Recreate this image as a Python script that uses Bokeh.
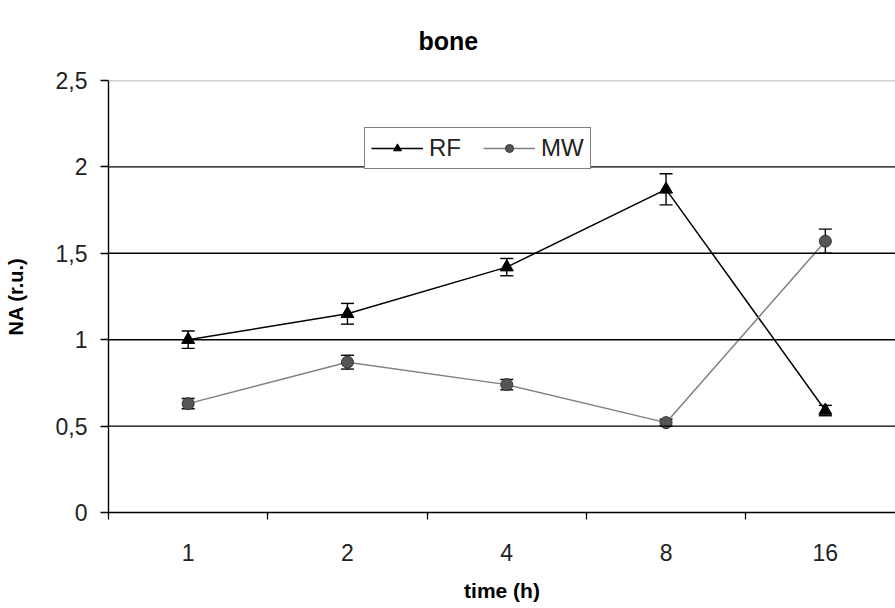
from bokeh.plotting import figure
from bokeh.models import (ColumnDataSource, FixedTicker, Legend, LegendItem,
                          Whisker, Span, TeeHead)
from bokeh.embed import file_html
from bokeh.resources import INLINE

# ---- data ----
categories = ["1", "2", "4", "8", "16"]
rf_values = [1.00, 1.15, 1.42, 1.87, 0.59]
rf_errors = [0.05, 0.06, 0.05, 0.09, 0.03]
mw_values = [0.63, 0.87, 0.74, 0.52, 1.57]
mw_errors = [0.03, 0.04, 0.03, 0.02, 0.07]
y_ticks = [0, 0.5, 1, 1.5, 2, 2.5]
y_tick_labels = ["0", "0,5", "1", "1,5", "2", "2,5"]
title_text = "bone"
x_label = "time (h)"
y_label = "NA (r.u.)"

xpos = [i + 0.5 for i in range(len(categories))]

rf_src = ColumnDataSource(dict(x=xpos, y=rf_values,
                               lo=[v - e for v, e in zip(rf_values, rf_errors)],
                               hi=[v + e for v, e in zip(rf_values, rf_errors)]))
mw_src = ColumnDataSource(dict(x=xpos, y=mw_values,
                               lo=[v - e for v, e in zip(mw_values, mw_errors)],
                               hi=[v + e for v, e in zip(mw_values, mw_errors)]))

W, H = 895, 608
left, top, bottom = 108, 80, 96
frame_w = W - left
cat_w = 159.3

p = figure(width=W, height=H, output_backend="svg", toolbar_location=None,
           x_range=(0, frame_w / cat_w), y_range=(0, 2.5),
           min_border_left=left, min_border_right=0, min_border_top=top,
           min_border_bottom=bottom)
p.outline_line_color = None
p.background_fill_color = "white"
p.border_fill_color = "white"
p.xgrid.visible = False
p.ygrid.visible = False

font = "Liberation Sans"

p.title.text = title_text
p.title.align = "left"
p.title.offset = 310
p.title.text_font = font
p.title.text_font_style = "bold"
p.title.text_font_size = "25px"
p.title.text_color = "black"
p.title.standoff = 48
p.title.vertical_align = "top"

# gridlines
for t in y_ticks[1:]:
    p.add_layout(Span(location=t, dimension="width",
                      line_color="#a0a0a0" if t == 2.5 else "black", line_width=1.4))

# axes
xa = p.xaxis[0]
xa.ticker = FixedTicker(ticks=xpos, minor_ticks=list(range(len(categories))))
xa.major_label_overrides = {x: c for x, c in zip(xpos, categories)}
xa.major_tick_out = 0
xa.major_tick_in = 0
xa.minor_tick_out = 7
xa.minor_tick_in = 0
xa.minor_tick_line_color = "black"
xa.minor_tick_line_width = 1.3
xa.axis_line_color = "black"
xa.axis_line_width = 1.4
xa.major_label_standoff = 24
xa.major_label_text_font = font
xa.major_label_text_font_size = "23px"
xa.major_label_text_color = "#222222"
xa.axis_label = x_label
xa.axis_label_text_font = font
xa.axis_label_text_font_style = "bold"
xa.axis_label_text_font_size = "21px"
xa.axis_label_text_color = "black"
xa.axis_label_standoff = 15

ya = p.yaxis[0]
ya.ticker = FixedTicker(ticks=y_ticks, minor_ticks=[])
ya.major_label_overrides = {t: l for t, l in zip(y_ticks, y_tick_labels)}
ya.major_tick_out = 8
ya.major_tick_in = 0
ya.major_tick_line_color = "black"
ya.major_tick_line_width = 1.3
ya.axis_line_color = "black"
ya.axis_line_width = 1.4
ya.major_label_standoff = 13
ya.major_label_text_font = font
ya.major_label_text_font_size = "23px"
ya.major_label_text_color = "#222222"
ya.axis_label = y_label
ya.axis_label_text_font = font
ya.axis_label_text_font_style = "bold"
ya.axis_label_text_font_size = "20px"
ya.axis_label_text_color = "black"
ya.axis_label_standoff = 26

# series
rf_line = p.line("x", "y", source=rf_src, line_color="black", line_width=1.5)
mw_line = p.line("x", "y", source=mw_src, line_color="#808080", line_width=1.5)
for src in (rf_src, mw_src):
    p.add_layout(Whisker(source=src, base="x", lower="lo", upper="hi",
                         line_color="black", line_width=1.4,
                         upper_head=TeeHead(size=13, line_color="black", line_width=1.4),
                         lower_head=TeeHead(size=13, line_color="black", line_width=1.4)))
rf_mark = p.scatter("x", "y", source=rf_src, marker="triangle", size=13,
                    fill_color="black", line_color="black")
mw_mark = p.scatter("x", "y", source=mw_src, marker="circle", size=12,
                    fill_color="#555555", line_color="#333333")

legend = Legend(items=[LegendItem(label="RF", renderers=[rf_line, rf_mark]),
                       LegendItem(label="MW", renderers=[mw_line, mw_mark])],
                orientation="horizontal", location=(256, 343),
                border_line_color="black", border_line_width=1.4,
                background_fill_color="white", background_fill_alpha=1,
                label_text_font=font, label_text_font_size="24px",
                label_text_color="#222222",
                glyph_width=52, glyph_height=20, spacing=22, padding=6, margin=0,
                label_standoff=6, label_height=20)
p.add_layout(legend, "center")

open("out.html", "w").write(file_html(p, INLINE))
